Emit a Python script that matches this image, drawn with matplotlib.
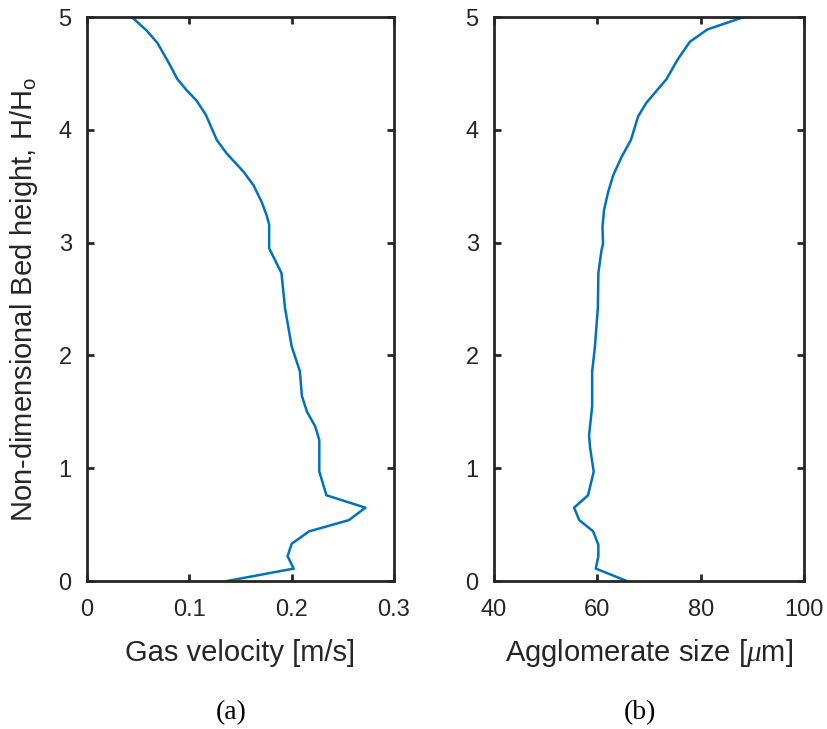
import matplotlib
matplotlib.use("Agg")
import matplotlib.pyplot as plt

plt.rcParams['font.family'] = ['Liberation Sans', 'DejaVu Sans']
plt.rcParams['mathtext.fontset'] = 'custom'
plt.rcParams['mathtext.rm'] = 'Liberation Sans'
plt.rcParams['mathtext.it'] = 'Liberation Serif:italic'

# Panel (a): gas velocity vs. non-dimensional height
height_a = [0.0, 0.11, 0.22, 0.33, 0.44, 0.54, 0.65, 0.76, 0.97, 1.25, 1.37, 1.50,
            1.64, 1.86, 2.08, 2.42, 2.73, 2.95, 3.16, 3.24, 3.36, 3.51, 3.63, 3.79,
            3.91, 4.13, 4.26, 4.35, 4.45, 4.60, 4.77, 4.88, 5.0]
velocity = [0.137, 0.202, 0.196, 0.200, 0.217, 0.256, 0.272, 0.234, 0.227, 0.227,
            0.223, 0.215, 0.210, 0.208, 0.200, 0.1935, 0.190, 0.178, 0.178, 0.1756,
            0.1707, 0.1626, 0.1528, 0.1365, 0.1268, 0.1163, 0.107, 0.0974, 0.0883,
            0.0795, 0.0688, 0.0583, 0.0437]

# Panel (b): agglomerate size vs. non-dimensional height
height_b = [0.0, 0.11, 0.22, 0.32, 0.44, 0.54, 0.65, 0.76, 0.97, 1.18, 1.29, 1.55,
            1.86, 2.06, 2.42, 2.73, 2.93, 2.99, 3.14, 3.29, 3.45, 3.60, 3.76, 3.91,
            4.12, 4.24, 4.45, 4.62, 4.78, 4.89, 5.0]
agg_size = [65.7, 59.7, 60.2, 60.2, 59.2, 56.5, 55.5, 58.2, 59.3, 58.6, 58.4, 59.0,
            59.0, 59.5, 60.1, 60.2, 60.8, 61.1, 61.0, 61.3, 62.1, 63.1, 64.7, 66.5,
            67.9, 69.5, 73.4, 75.5, 77.9, 81.3, 88.4]

xticks_a = [0, 0.1, 0.2, 0.3]
xticklabels_a = ['0', '0.1', '0.2', '0.3']
xticks_b = [40, 60, 80, 100]
yticks = [0, 1, 2, 3, 4, 5]

W, H = 828, 729
fig = plt.figure(figsize=(W / 100, H / 100), dpi=100)
ax1 = fig.add_axes([87 / W, (H - 581) / H, 307 / W, 564 / H])
ax2 = fig.add_axes([494 / W, (H - 581) / H, 310 / W, 564 / H])

line_color = '#0072BD'
axis_color = '#262626'

ax1.plot(velocity, height_a, color=line_color, lw=1.8)
ax2.plot(agg_size, height_b, color=line_color, lw=1.8)

for ax in (ax1, ax2):
    ax.set_ylim(0, 5)
    ax.set_yticks(yticks)
    ax.set_yticklabels([str(t) for t in yticks])
    for s in ax.spines.values():
        s.set_color(axis_color)
        s.set_linewidth(2.0)
    ax.tick_params(direction='in', length=5, width=2.0, color=axis_color,
                   labelcolor=axis_color, labelsize=17, top=True, right=True)
    ax.tick_params(axis='x', pad=13)
    ax.tick_params(axis='y', pad=11)

ax1.set_xlim(0, 0.3)
ax1.set_xticks(xticks_a)
ax1.set_xticklabels(xticklabels_a)
ax2.set_xlim(40, 100)
ax2.set_xticks(xticks_b)
ax2.set_xticklabels([str(t) for t in xticks_b])

cx1 = (87 + 394) / 2 / W
cx2 = (494 + 804) / 2 / W
fig.text(cx1, 1 - 661 / H, 'Gas velocity [m/s]', fontsize=21, color=axis_color,
         ha='center', va='baseline')
fig.text(cx2, 1 - 661 / H, r'Agglomerate size [$\mu$m]', fontsize=21, color=axis_color,
         ha='center', va='baseline')
fig.text(24 / W, 1 - 300 / H, r'Non-dimensional Bed height, H/H$_{\mathrm{o}}$',
         fontsize=21, color=axis_color, rotation=90, ha='center', va='center')

fig.text(231 / W, 1 - 713 / H, '(a)', ha='center', va='center',
         fontsize=20, family='Liberation Serif', color='black')
fig.text(640 / W, 1 - 713 / H, '(b)', ha='center', va='center',
         fontsize=20, family='Liberation Serif', color='black')

fig.savefig('out.png', dpi=100)
